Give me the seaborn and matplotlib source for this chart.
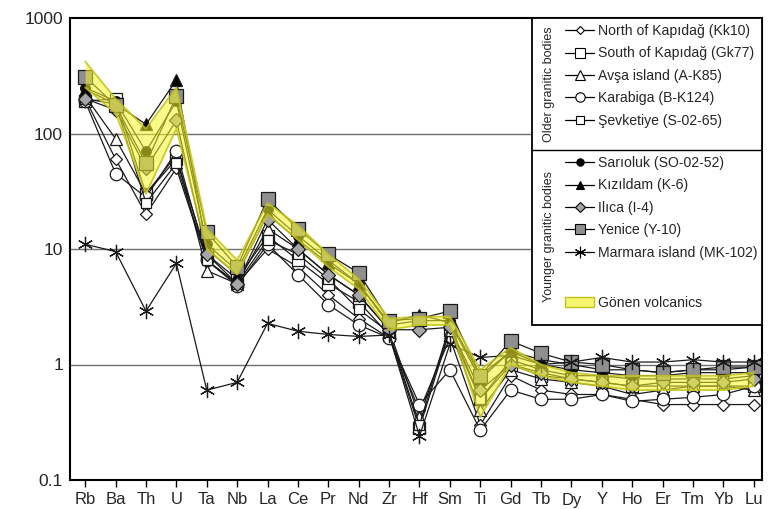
import numpy as np
import pandas as pd
import matplotlib
matplotlib.use("Agg")
import matplotlib.pyplot as plt
import seaborn as sns
from matplotlib.lines import Line2D
from matplotlib.patches import Rectangle, Patch

# element order on the x axis
elements = ['Rb', 'Ba', 'Th', 'U', 'Ta', 'Nb', 'La', 'Ce', 'Pr', 'Nd', 'Zr', 'Hf',
            'Sm', 'Ti', 'Gd', 'Tb', 'Dy', 'Y', 'Ho', 'Er', 'Tm', 'Yb', 'Lu']

# older granitic bodies
kk10 = [200, 60, 20, 50, 8, 5, 10, 7, 4, 2.5, 1.7, 0.4, 1.7, 0.3, 0.8, 0.6, 0.55, 0.55, 0.5, 0.45, 0.45, 0.45, 0.45]
gk77 = [190, 200, 30, 60, 9, 5.5, 13, 8, 5, 3.5, 1.8, 0.28, 2.0, 0.5, 1.0, 0.8, 0.75, 0.7, 0.65, 0.65, 0.65, 0.65, 0.65]
ak85 = [210, 90, 30, 65, 6.5, 5, 15, 10, 6, 4, 2.0, 0.35, 2.0, 0.4, 0.9, 0.75, 0.7, 0.65, 0.55, 0.6, 0.65, 0.65, 0.6]
bk124 = [190, 45, 28, 70, 8, 4.8, 11, 6, 3.3, 2.2, 1.7, 0.45, 0.9, 0.27, 0.6, 0.5, 0.5, 0.55, 0.48, 0.5, 0.52, 0.55, 0.65]
s0265 = [200, 180, 25, 55, 8, 5, 12, 9, 5.5, 3, 1.9, 0.3, 2.2, 0.5, 1.1, 0.9, 0.8, 0.8, 0.75, 0.75, 0.75, 0.75, 0.8]

# younger granitic bodies
so0252 = [250, 190, 70, 190, 11, 6.5, 22, 13, 8, 5, 2.2, 2.4, 2.4, 0.8, 1.3, 1.0, 0.9, 0.85, 0.8, 0.8, 0.85, 0.85, 0.85]
k6 = [240, 180, 120, 290, 10, 6, 20, 12, 7.5, 5, 2.3, 2.7, 2.3, 0.75, 1.3, 1.1, 1.0, 0.9, 0.9, 0.85, 0.9, 0.9, 0.95]
i4 = [200, 160, 50, 130, 9, 5, 18, 10, 6, 4, 2.0, 2.0, 2.1, 0.6, 1.0, 0.85, 0.75, 0.7, 0.65, 0.7, 0.7, 0.7, 0.75]
y10 = [310, 175, 55, 210, 14, 7, 27, 15, 9, 6.2, 2.4, 2.5, 2.9, 0.8, 1.6, 1.25, 1.05, 1.0, 0.9, 0.85, 0.9, 0.95, 0.95]
mk102 = [11, 9.5, 2.9, 7.5, 0.6, 0.7, 2.27, 1.94, 1.82, 1.75, 1.8, 0.24, 1.5, 1.15, 1.2, 1.0, 1.05, 1.15, 1.05, 1.05, 1.1, 1.05, 1.05]

# Gönen volcanics field
gonen_hi = [420, 200, 110, 250, 15, 8, 25, 16, 9, 5.5, 2.5, 2.6, 2.6, 0.9, 1.4, 1.0, 0.85, 0.8, 0.8, 0.8, 0.8, 0.8, 0.85]
gonen_lo = [250, 150, 30, 110, 10, 6, 20, 12, 7, 4.5, 2.0, 2.2, 2.2, 0.35, 1.0, 0.8, 0.7, 0.65, 0.6, 0.6, 0.6, 0.6, 0.65]

older = [
    ('North of Kapıdağ (Kk10)', kk10, dict(marker='D', ms=6, markerfacecolor='white')),
    ('South of Kapıdağ (Gk77)', gk77, dict(marker='s', ms=9, markerfacecolor='white')),
    ('Avşa island (A-K85)', ak85, dict(marker='^', ms=9, markerfacecolor='white')),
    ('Karabiga (B-K124)', bk124, dict(marker='o', ms=9, markerfacecolor='white')),
    ('Şevketiye (S-02-65)', s0265, dict(marker='s', ms=7, markerfacecolor='white')),
]
younger = [
    ('Sarıoluk (SO-02-52)', so0252, dict(marker='o', ms=7, markerfacecolor='black')),
    ('Kızıldam (K-6)', k6, dict(marker='^', ms=8, markerfacecolor='black')),
    ('Ilıca (I-4)', i4, dict(marker='D', ms=7, markerfacecolor='#a6a6a6')),
    ('Yenice (Y-10)', y10, dict(marker='s', ms=9.5, markerfacecolor='#8f8f8f')),
    ('Marmara island (MK-102)', mk102, dict(marker=(6, 2, 0), ms=11, markerfacecolor='black')),
]

sns.set_style('white')
plt.rcParams['font.family'] = ['Liberation Sans', 'DejaVu Sans']

fig = plt.figure(figsize=(7.73, 5.09), dpi=100)
ax = fig.add_axes([70 / 773, 29 / 509, 692 / 773, 462 / 509])

x = np.arange(len(elements))
for name, vals, st in older + younger:
    sns.lineplot(x=x, y=vals, color='#1a1a1a', lw=0.9, markeredgecolor='#1a1a1a',
                 markeredgewidth=0.9, sort=False, ax=ax, zorder=3, **st)

# yellow field on top, translucent
ax.fill_between(x, gonen_lo, gonen_hi, color='#f7f72a', alpha=0.55, lw=0, zorder=4)
sns.lineplot(x=x, y=gonen_hi, color='#c2c21a', lw=1.3, alpha=0.85, ax=ax, zorder=4)
sns.lineplot(x=x, y=gonen_lo, color='#c2c21a', lw=1.3, alpha=0.85, ax=ax, zorder=4)

ax.set_yscale('log')
ax.set_ylim(0.1, 1000)
ax.set_xlim(-0.5, 22.27)
ax.set_xticks(x)
ax.set_xticklabels(elements)
ax.set_yticks([0.1, 1, 10, 100, 1000])
ax.set_yticklabels(['0.1', '1', '10', '100', '1000'])
ax.yaxis.set_minor_locator(matplotlib.ticker.NullLocator())
ax.tick_params(axis='x', direction='out', length=5, width=1, color='black',
               labelsize=12, pad=4, bottom=True)
ax.tick_params(axis='y', length=0, labelsize=12.5, pad=5)
for v in [1, 10, 100]:
    ax.axhline(v, color='#6e6e6e', lw=1.0, zorder=1)
for sp in ax.spines.values():
    sp.set_color('black')
    sp.set_linewidth(1.5)

# legend box
bx0, by0 = (532 - 70) / 692, (480 - 325) / 462
ax.add_patch(Rectangle((bx0, by0), 1 - bx0, 1 - by0, transform=ax.transAxes,
                       facecolor='white', edgecolor='black', lw=1.3, zorder=10))
ydiv = (480 - 150) / 462
ax.plot([bx0, 1], [ydiv, ydiv], transform=ax.transAxes, color='black', lw=1.0, zorder=11)
ax.text((549 - 70) / 692, (480 - 84) / 462, 'Older granitic bodies', rotation=90,
        transform=ax.transAxes, ha='center', va='center', fontsize=9, zorder=12)
ax.text((549 - 70) / 692, (480 - 237) / 462, 'Younger granitic bodies', rotation=90,
        transform=ax.transAxes, ha='center', va='center', fontsize=9, zorder=12)


def handles(group):
    out = []
    for name, vals, st in group:
        s = dict(st)
        s['ms'] = s['ms'] * 0.75
        out.append(Line2D([], [], color='black', lw=0.9, markeredgecolor='black',
                          markeredgewidth=0.8, label=name, **s))
    return out


leg_kw = dict(frameon=False, fontsize=10.1, handlelength=2.1, handletextpad=0.25,
              labelspacing=0.6, borderpad=0, borderaxespad=0, loc='upper left')
leg1 = ax.legend(handles=handles(older), bbox_to_anchor=((565 - 70) / 692, (480 - 24) / 462), **leg_kw)
leg1.set_zorder(12)
ax.add_artist(leg1)
leg2 = ax.legend(handles=handles(younger), bbox_to_anchor=((565 - 70) / 692, (480 - 156) / 462), **leg_kw)
leg2.set_zorder(12)
ax.add_artist(leg2)
gpatch = Patch(facecolor='#f5f570', edgecolor='#c2c21a', label='Gönen volcanics')
leg3 = ax.legend(handles=[gpatch], bbox_to_anchor=((565 - 70) / 692, (480 - 296) / 462), **leg_kw)
leg3.set_zorder(12)

fig.savefig('out.png', dpi=100)
